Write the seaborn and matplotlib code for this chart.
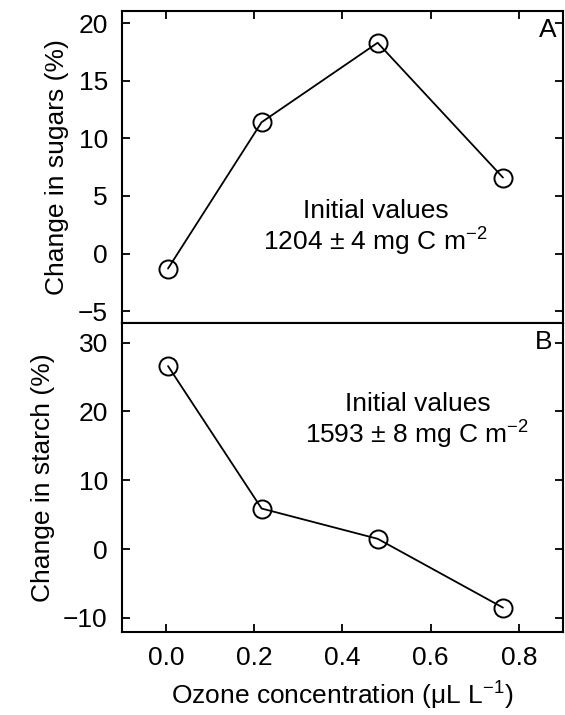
import numpy as np
import pandas as pd
import matplotlib
matplotlib.use("Agg")
import matplotlib.pyplot as plt
import seaborn as sns

# data
ozone = [0.005, 0.217, 0.48, 0.764]
sugars = [-1.3, 11.4, 18.3, 6.6]
starch = [26.6, 5.9, 1.5, -8.5]

sugar_ticks = [-5, 0, 5, 10, 15, 20]
starch_ticks = [-10, 0, 10, 20, 30]
x_ticks = [0.0, 0.2, 0.4, 0.6, 0.8]

sns.set_style("ticks")
plt.rcParams['font.family'] = ['Liberation Sans', 'DejaVu Sans']
plt.rcParams['mathtext.fontset'] = 'custom'
plt.rcParams['mathtext.rm'] = 'Liberation Sans'
plt.rcParams['mathtext.it'] = 'Liberation Sans:italic'
plt.rcParams['font.size'] = 19
plt.rcParams['text.color'] = 'black'
plt.rcParams['axes.labelcolor'] = 'black'
plt.rcParams['xtick.color'] = 'black'
plt.rcParams['ytick.color'] = 'black'

fig = plt.figure(figsize=(5.65, 7.15), dpi=100)
ax1 = fig.add_axes([0.2154, 0.5487, 0.781, 0.4366])
ax2 = fig.add_axes([0.2154, 0.1165, 0.781, 0.4322])

df = pd.DataFrame({'ozone': ozone, 'sugars': sugars, 'starch': starch})

style = dict(color='black', linewidth=1.3, marker='o', markersize=13,
             markerfacecolor='none', markeredgecolor='black', markeredgewidth=1.4)
sns.lineplot(data=df, x='ozone', y='sugars', ax=ax1, **style)
sns.lineplot(data=df, x='ozone', y='starch', ax=ax2, **style)

for ax in (ax1, ax2):
    ax.set_xlim(-0.1, 0.9)
    for s in ax.spines.values():
        s.set_linewidth(1.5)
        s.set_color('black')

ax1.set_ylim(-6, 21.1)
ax1.set_yticks(sugar_ticks)
ax1.set_xticks(x_ticks)
ax1.tick_params(direction='in', length=6, width=1.3, top=True, bottom=False,
                right=True, labelbottom=False, labelsize=19, pad=10)
ax1.set_xlabel('')
ax1.set_ylabel('Change in sugars (%)', fontsize=19, labelpad=6)

ax2.set_ylim(-12, 32.9)
ax2.set_yticks(starch_ticks)
ax2.set_xticks(x_ticks)
ax2.set_xticklabels([f'{v:.1f}' for v in x_ticks])
ax2.tick_params(direction='in', length=6, width=1.3, top=False, bottom=True,
                right=True, labelsize=19, pad=10)
ax2.set_xlabel('Ozone concentration (\u03bcL L$^{-1}$)', fontsize=19, labelpad=7)
ax2.set_ylabel('Change in starch (%)', fontsize=19, labelpad=6)

ax1.text(0.985, 0.975, 'A', transform=ax1.transAxes, ha='right', va='top', fontsize=19)
ax2.text(0.975, 0.975, 'B', transform=ax2.transAxes, ha='right', va='top', fontsize=19)

ax1.text(0.475, 2.2, 'Initial values\n1204 \u00b1 4 mg C m$^{-2}$', ha='center', va='center',
         fontsize=19, linespacing=1.1)
ax2.text(0.57, 18.5, 'Initial values\n1593 \u00b1 8 mg C m$^{-2}$', ha='center', va='center',
         fontsize=19, linespacing=1.1)

fig.savefig('out.png', dpi=100)
